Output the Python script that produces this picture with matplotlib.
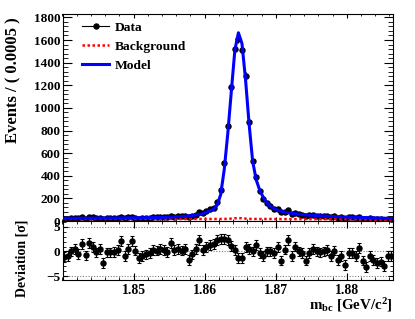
import matplotlib
matplotlib.use('Agg')
import matplotlib.pyplot as plt
import numpy as np
from matplotlib.ticker import MultipleLocator
from matplotlib.lines import Line2D

plt.rcParams['font.family'] = ['Liberation Serif', 'DejaVu Serif']
plt.rcParams['font.weight'] = 'bold'
plt.rcParams['mathtext.fontset'] = 'custom'
plt.rcParams['mathtext.rm'] = 'Liberation Serif:bold'
plt.rcParams['mathtext.bf'] = 'Liberation Serif:bold'
plt.rcParams['mathtext.it'] = 'Liberation Serif:bold:italic'

# binning: 93 bins of 0.0005 from 1.84 to 1.8865
mbc_lo, bin_w, n_bins = 1.84, 0.0005, 93

data = [19, 20, 24, 27, 23, 33, 21, 34, 31, 25,
        29, 14, 25, 26, 26, 29, 38, 23, 31, 39,
        30, 22, 24, 27, 28, 33, 32, 35, 35, 33,
        45, 38, 41, 41, 45, 34, 44, 57, 76, 67,
        88, 103, 118, 171, 274, 510, 837, 1185, 1521, 1610,
        1516, 1285, 875, 530, 392, 267, 195, 158, 130, 107,
        105, 82, 83, 93, 60, 72, 60, 55, 41, 50,
        54, 48, 45, 44, 44, 35, 41, 28, 32, 20,
        33, 32, 27, 36, 21, 15, 24, 19, 16, 16,
        11, 19, 17]

model = [24, 24, 24, 25, 25, 25, 25, 25, 26, 26,
         26, 26, 26, 27, 27, 27, 27, 28, 28, 28,
         29, 29, 29, 30, 30, 31, 31, 32, 33, 34,
         35, 36, 38, 40, 42, 45, 48, 53, 58, 64,
         80, 89, 102, 140, 232, 452, 770, 1144, 1510, 1664,
         1569, 1253, 860, 530, 364, 272, 209, 160, 130, 110,
         96, 86, 79, 73, 68, 64, 60, 57, 54, 52,
         50, 48, 46, 44, 42, 41, 40, 38, 37, 36,
         35, 34, 33, 32, 31, 30, 29, 28, 27, 26,
         25, 24, 22]

background = [18, 18, 18, 18, 18, 18, 18, 18, 18, 18,
              18, 18, 18, 18, 18, 18, 18, 18, 18, 18,
              18, 18, 18, 18, 18, 18, 18, 18, 18, 18,
              18, 18, 18, 18, 18, 18, 18, 18, 18, 18,
              18, 18, 18, 18, 18, 18, 19, 21, 24, 26,
              24, 21, 19, 18, 18, 18, 18, 18, 18, 17,
              17, 17, 17, 17, 17, 17, 17, 17, 17, 17,
              17, 16, 16, 16, 16, 16, 16, 16, 16, 15,
              15, 15, 15, 15, 14, 14, 13, 12, 11, 9,
              7, 4, 1]

pulls = [-1.1, -0.9, 0.0, 0.5, -0.5, 1.5, -0.8, 1.7, 0.9, -0.2,
         0.5, -2.3, -0.2, -0.2, -0.1, 0.35, 2.05, -0.9, 0.5, 2.05,
         0.2, -1.4, -0.9, -0.6, -0.3, 0.3, 0.2, 0.55, 0.35, -0.1,
         1.7, 0.35, 0.5, 0.2, 0.5, -1.7, -0.6, 0.5, 2.3, 0.35,
         0.9, 1.4, 1.5, 2.4, 2.55, 2.55, 2.3, 1.2, 0.3, -1.35,
         -1.35, 0.9, 0.5, 0.0, 1.4, -0.3, -1.0, 0.0, 0.0, -0.3,
         0.9, -1.85, 0.4, 2.3, -1.0, 1.0, 0.0, -0.3, -1.85, -0.3,
         0.5, 0.0, -0.2, 0.0, 0.35, -1.0, 0.2, -1.7, -0.9, -2.7,
         -0.3, -0.3, -1.0, 0.7, -1.85, -3.1, -1.0, -1.7, -2.3, -2.05,
         -2.9, -1.0, -1.0]

x = mbc_lo + bin_w * (np.arange(n_bins) + 0.5)
data = np.array(data)

W, H = 415, 319
fig = plt.figure(figsize=(W / 100, H / 100), dpi=100)
ax = fig.add_axes([62.5 / W, 1 - 221 / H, (393 - 62.5) / W, (221 - 14) / H])
axr = fig.add_axes([62.5 / W, 1 - 280 / H, (393 - 62.5) / W, (280 - 221) / H], sharex=ax)

# main panel
ax.errorbar(x, data, yerr=np.sqrt(data), fmt='o', color='black', ms=3.6,
            elinewidth=0.8, capsize=0, zorder=2)
bkg_line, = ax.plot(x, background, color='red', lw=1.8, ls=(0, (1, 1)), zorder=3)
model_line, = ax.plot(x, model, color='blue', lw=2.2, zorder=4)
ax.set_xlim(1.84, 1.8865)
ax.set_ylim(0, 1830)
ax.yaxis.set_major_locator(MultipleLocator(200))
ax.yaxis.set_minor_locator(MultipleLocator(40))
ax.xaxis.set_major_locator(MultipleLocator(0.01))
ax.xaxis.set_minor_locator(MultipleLocator(0.002))
ax.tick_params(axis='both', which='both', direction='in', top=True, right=True, labelbottom=False)
ax.tick_params(axis='y', which='major', length=6.5, labelsize=9.5, pad=1.5)
ax.tick_params(axis='y', which='minor', length=3.3)
ax.tick_params(axis='x', which='major', length=3.2)
ax.tick_params(axis='x', which='minor', length=1.7)
fig.text(13 / W, 1 - 17 / H, 'Events / ( 0.0005 )', rotation=90, ha='center', va='top',
         fontsize=12, fontweight='bold')

h_data = Line2D([], [], color='black', marker='o', ms=3.6, lw=0.8)
ax.legend([h_data, bkg_line, model_line], ['Data', 'Background', 'Model'],
          loc='upper left', bbox_to_anchor=(0.023, 1.024), frameon=False,
          handlelength=2.0, handletextpad=0.45, labelspacing=0.5,
          prop={'weight': 'bold', 'size': 9.7})

# pull panel
axr.errorbar(x, pulls, yerr=1, fmt='o', color='black', ms=3.6,
             elinewidth=0.8, capsize=1.2, capthick=0.8)
for lvl in [-5, 0, 5]:
    axr.axhline(lvl, color='grey', ls=(0, (1, 1.5)), lw=0.8, zorder=0)
axr.set_ylim(-5.8, 6.2)
axr.set_yticks([-5, 0, 5])
axr.yaxis.set_minor_locator(MultipleLocator(1))
axr.tick_params(axis='both', which='both', direction='in', top=True, right=True)
axr.tick_params(axis='y', which='major', length=3.5, labelsize=9.5, pad=1.5)
axr.tick_params(axis='y', which='minor', length=2)
axr.tick_params(axis='x', which='major', length=5, labelsize=9.8, pad=3)
axr.tick_params(axis='x', which='minor', length=2.5)
axr.set_xticks([1.85, 1.86, 1.87, 1.88])
axr.set_xticklabels(['1.85', '1.86', '1.87', '1.88'])
fig.text(22 / W, 1 - 258 / H, 'Deviation [σ]', rotation=90, ha='center', va='center',
         fontsize=10, fontweight='bold')
fig.text(393 / W, 1 - 309.5 / H, r'm$_{\mathrm{bc}}$ [GeV/c$^{\mathrm{2}}$]', ha='right',
         va='baseline', fontsize=10.8, fontweight='bold')

for a in [ax, axr]:
    for s in a.spines.values():
        s.set_linewidth(0.8)

fig.savefig('out.png', dpi=100)
